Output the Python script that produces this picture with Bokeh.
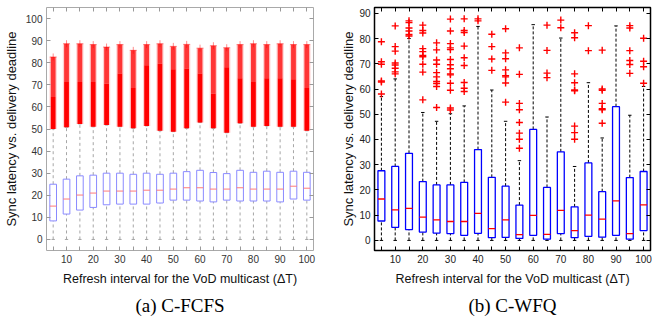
from bokeh.plotting import figure
from bokeh.layouts import row
from bokeh.models import FixedTicker, LinearAxis, Title
from bokeh.embed import file_html
from bokeh.resources import INLINE

# ---------------- data ----------------
positions = list(range(1, 21))
interval_labels = {i: (str(5 * i) if i % 2 == 0 else "") for i in positions}

# (a) C-FCFS
fcfs_q1 = [8.4, 11.5, 13.3, 14.5, 15.7, 16.0, 16.0, 16.0, 16.5, 17.8,
           17.8, 17.4, 17.0, 17.8, 17.4, 17.4, 17.4, 17.0, 18.3, 17.8]
fcfs_med = [15.1, 18.3, 20.1, 21.0, 21.9, 21.9, 21.9, 22.3, 22.3, 22.8,
            23.4, 23.4, 22.8, 22.8, 23.4, 22.8, 22.8, 22.8, 24.1, 23.2]
fcfs_q3 = [25.0, 27.3, 28.8, 29.1, 30.0, 30.0, 29.5, 30.0, 29.5, 30.0,
           30.7, 31.3, 30.3, 29.8, 31.3, 30.4, 30.9, 30.4, 30.9, 30.4]
fcfs_wlo = [0] * 20
fcfs_out_lo = [50.0, 50.8, 52.3, 51.0, 51.8, 51.0, 50.3, 51.4, 49.2, 48.8,
               50.3, 52.9, 50.3, 48.3, 52.6, 51.0, 51.4, 51.0, 51.0, 49.2]
fcfs_out_dense = [64.5, 71.3, 71.3, 71.3, 70.5, 75.1, 68.6, 78.9, 79.5, 77.0,
                  77.4, 75.1, 66.0, 78.0, 73.0, 71.3, 73.0, 73.0, 72.5, 68.6]
fcfs_out_hi = [82.6, 88.6, 88.6, 88.2, 87.1, 88.2, 85.6, 88.2, 88.6, 87.4,
               88.3, 86.6, 87.7, 86.8, 88.2, 88.6, 88.2, 88.6, 88.2, 88.2]

# (b) C-WFQ
wfq_q1 = [7.7, 5.2, 4.3, 3.3, 2.9, 2.7, 2.0, 2.8, 1.1, 1.2,
          0.8, 2.0, 0.5, 2.7, 1.1, 1.6, 1.3, 2.0, 0.5, 3.9]
wfq_med = [16.4, 12.1, 12.7, 9.2, 8.1, 7.5, 7.5, 10.7, 4.7, 8.1,
           2.3, 9.9, 2.4, 11.9, 3.9, 10.0, 8.4, 15.7, 2.7, 14.1]
wfq_q3 = [27.6, 29.3, 34.5, 23.3, 22.0, 22.0, 23.0, 36.0, 25.0, 21.5,
          14.0, 44.0, 21.0, 35.1, 13.3, 30.7, 19.3, 53.0, 24.9, 27.3]
wfq_wlo = [0] * 20
wfq_whi = [57.0, 64.0, 80.0, 50.7, 47.2, 50.2, 53.3, 84.8, 59.6, 47.2,
           31.6, 85.5, 48.9, 80.2, 29.3, 62.5, 40.6, 85.0, 49.6, 61.0]
wfq_outliers = [
    [78.7, 70.8, 69.8, 63.2, 62.8, 58.0],
    [85.0, 76.8, 75.0, 70.3, 69.5, 68.2, 66.8, 66.0],
    [87.0, 86.3, 84.2, 83.0, 81.6, 81.0],
    [85.3, 83.2, 82.2, 76.0, 74.8, 73.3, 72.8, 69.8, 66.7, 55.7],
    [78.3, 75.5, 71.5, 69.8, 66.5, 64.8, 63.0, 62.2, 61.0, 52.7],
    [87.7, 83.0, 78.0, 76.3, 75.6, 71.7, 69.6, 68.0, 66.0, 65.6, 62.3, 59.5, 52.5, 51.7],
    [87.8, 83.2, 82.4, 77.0, 72.4, 69.3, 62.6, 60.3, 59.0],
    [87.8, 87.0],
    [81.7, 76.8, 71.9, 67.4],
    [83.9, 74.3, 72.0, 67.6, 65.3, 64.8, 62.4, 54.8],
    [76.3, 65.8, 54.3, 51.8, 46.7, 42.5, 40.1, 36.5],
    [],
    [85.3, 75.3, 66.3, 64.5],
    [87.3, 84.3],
    [82.3, 80.3, 66.0, 62.5, 59.6, 59.3, 45.3, 42.7, 40.1],
    [85.1, 75.2],
    [75.4, 60.0, 59.5, 54.3, 52.2, 51.8, 46.4],
    [],
    [85.1, 84.2, 75.2, 71.3, 69.7, 66.2],
    [80.1, 71.0, 68.8, 62.3],
]

x_label = "Refresh interval for the VoD multicast (\u0394T)"
y_label = "Sync latency vs. delivery deadline"
captions = ["(a) C-FCFS", "(b) C-WFQ"]
FONT = "Liberation Sans"
BW = 0.25  # half box width


def mirror_axis(ticks, tick_color):
    return LinearAxis(ticker=FixedTicker(ticks=ticks), axis_line_color=None,
                      major_tick_in=4, major_tick_out=0, minor_tick_line_color=None,
                      major_tick_line_color=tick_color, major_label_text_font_size="1px",
                      major_label_text_color=None, major_label_standoff=0)


def base_fig(y_range, yticks, border_left, border_right, frame_color, frame_w,
             tick_color, label_color, ylabel_standoff):
    p = figure(width=326, height=322, x_range=(0.5, 20.5), y_range=y_range,
               output_backend="svg", toolbar_location=None,
               min_border_left=border_left, min_border_right=border_right,
               min_border_top=7, min_border_bottom=72)
    p.xgrid.visible = False
    p.ygrid.visible = False
    p.outline_line_color = frame_color
    p.outline_line_width = frame_w
    p.background_fill_color = "white"
    for ax in (p.xaxis[0], p.yaxis[0]):
        ax.axis_line_color = None
        ax.major_tick_in = 4
        ax.major_tick_out = 0
        ax.minor_tick_line_color = None
        ax.major_tick_line_color = tick_color
        ax.major_label_text_font = FONT
        ax.major_label_text_font_size = "10px"
        ax.major_label_text_color = label_color
        ax.axis_label_text_font = FONT
        ax.axis_label_text_font_style = "normal"
        ax.axis_label_text_color = "#111111"
        ax.major_label_standoff = 4
    p.xaxis[0].axis_label_text_font_size = "12.5px"
    p.yaxis[0].axis_label_text_font_size = "13px"
    p.xaxis[0].axis_label_standoff = 6
    p.yaxis[0].axis_label_standoff = ylabel_standoff
    p.xaxis[0].ticker = FixedTicker(ticks=positions)
    p.xaxis[0].major_label_overrides = interval_labels
    p.yaxis[0].ticker = FixedTicker(ticks=yticks)
    p.xaxis[0].axis_label = x_label
    p.yaxis[0].axis_label = y_label
    p.add_layout(mirror_axis(yticks, tick_color), "right")
    p.add_layout(mirror_axis(positions, tick_color), "above")
    return p


def boxes(p, q1, med, q3, wlo, whi, box_c, med_c, wh_c, dash, lw):
    x0 = [x - BW for x in positions]
    x1 = [x + BW for x in positions]
    c0 = [x - BW / 2 for x in positions]
    c1 = [x + BW / 2 for x in positions]
    p.segment(x0=positions, x1=positions, y0=q3, y1=whi, line_color=wh_c,
              line_dash=dash, line_width=1)
    p.segment(x0=positions, x1=positions, y0=wlo, y1=q1, line_color=wh_c,
              line_dash=dash, line_width=1)
    p.segment(x0=c0, x1=c1, y0=whi, y1=whi, line_color=wh_c, line_width=1)
    p.segment(x0=c0, x1=c1, y0=wlo, y1=wlo, line_color=wh_c, line_width=1)
    p.quad(left=x0, right=x1, bottom=q1, top=q3, fill_color=None,
           line_color=box_c, line_width=lw)
    p.segment(x0=x0, x1=x1, y0=med, y1=med, line_color=med_c, line_width=lw)


def caption(p, text):
    p.add_layout(Title(text=text, align="center", text_font="Liberation Serif",
                       text_font_size="19px", text_font_style="normal",
                       text_color="#000000", standoff=8),
                 "below")


# ---------------- (a) ----------------
p1 = base_fig((-5, 105), list(range(0, 101, 10)), 40, 13, "#a9a9a9", 1,
              "#999999", "#333333", 4)
boxes(p1, fcfs_q1, fcfs_med, fcfs_q3, fcfs_wlo, fcfs_out_lo,
      "#8a8aff", "#ff7a7a", "#a6a6a6", "3 3", 1)
p1.vbar(x=positions, bottom=fcfs_out_lo, top=fcfs_out_hi, width=0.55,
        fill_color="#ff0000", fill_alpha=0.18, line_color=None)
p1.vbar(x=positions, bottom=fcfs_out_dense, top=fcfs_out_hi, width=0.36,
        fill_color="#ff0000", fill_alpha=0.75, line_color=None)
p1.vbar(x=positions, bottom=fcfs_out_lo, top=fcfs_out_dense, width=0.36,
        fill_color="#ff0000", fill_alpha=1.0, line_color=None)
p1.scatter(x=positions, y=fcfs_out_hi, marker="cross", size=7,
           line_color="#ff0000", line_alpha=0.45, line_width=1)
caption(p1, captions[0])

# ---------------- (b) ----------------
p2 = base_fig((-4, 92.3), list(range(0, 91, 10)), 48, 2, "#000000", 1.5,
              "#000000", "#222222", 0)
boxes(p2, wfq_q1, wfq_med, wfq_q3, wfq_wlo, wfq_whi,
      "#0000ff", "#ff0000", "#000000", "3 2", 1.3)
ox, oy = [], []
for pos, vals in zip(positions, wfq_outliers):
    for v in vals:
        ox.append(pos)
        oy.append(v)
p2.scatter(x=ox, y=oy, marker="cross", size=7, line_color="#ff0000", line_width=1.4)
caption(p2, captions[1])

layout = row(p1, p2)
open("out.html", "w").write(file_html(layout, INLINE))
